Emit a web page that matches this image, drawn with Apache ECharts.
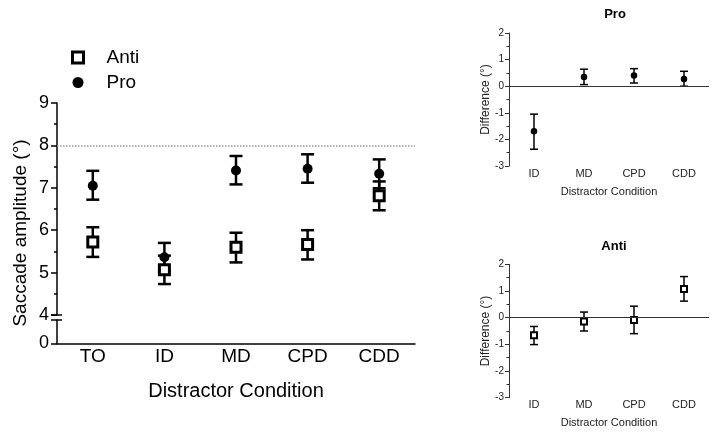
<!DOCTYPE html>
<html>
<head>
<meta charset="utf-8">
<script src="https://cdn.jsdelivr.net/npm/echarts@6/dist/echarts.min.js"></script>
<style>html,body{margin:0;padding:0;background:#fff}#c{width:717px;height:435px}</style>
</head>
<body>
<div id="c"></div>
<script>
// ---- data ----
const categories = ['TO', 'ID', 'MD', 'CPD', 'CDD'];
const proMean = [7.05, 5.36, 7.41, 7.45, 7.33];
const proLow  = [6.72, 5.03, 7.08, 7.12, 6.99];
const proHigh = [7.40, 5.70, 7.75, 7.79, 7.67];
const antiMean = [5.72, 5.07, 5.60, 5.66, 6.81];
const antiLow  = [5.37, 4.73, 5.24, 5.31, 6.47];
const antiHigh = [6.07, 5.40, 5.94, 6.00, 7.15];
const mainTicks = [4, 5, 6, 7, 8, 9];
const referenceLine = 8;

const diffCategories = ['ID', 'MD', 'CPD', 'CDD'];
const proDiff     = [-1.69, 0.35, 0.40, 0.27];
const proDiffLow  = [-2.37, 0.06, 0.12, 0.00];
const proDiffHigh = [-1.05, 0.64, 0.66, 0.56];
const antiDiff     = [-0.66, -0.14, -0.09, 1.07];
const antiDiffLow  = [-1.01, -0.50, -0.60, 0.62];
const antiDiffHigh = [-0.33, 0.21, 0.43, 1.54];

// ---- chart ----
const font = 'Liberation Sans, Arial, Helvetica, sans-serif';
const chart = echarts.init(document.getElementById('c'), null, {renderer: 'canvas'});

function errRender(capHalf, lw) {
  return function (params, api) {
    const x = api.value(0);
    const lo = api.coord([x, api.value(1)]);
    const hi = api.coord([x, api.value(2)]);
    const st = {stroke: '#000', lineWidth: lw};
    return {
      type: 'group',
      children: [
        {type: 'line', shape: {x1: lo[0], y1: lo[1], x2: hi[0], y2: hi[1]}, style: st},
        {type: 'line', shape: {x1: lo[0] - capHalf, y1: lo[1], x2: lo[0] + capHalf, y2: lo[1]}, style: st},
        {type: 'line', shape: {x1: hi[0] - capHalf, y1: hi[1], x2: hi[0] + capHalf, y2: hi[1]}, style: st}
      ]
    };
  };
}
function errData(low, high) { return low.map((v, i) => [i, v, high[i]]); }

const smallX = (gi) => ({
  gridIndex: gi, type: 'category', data: diffCategories,
  axisLine: {show: false}, axisTick: {show: false},
  axisLabel: {fontSize: 11, color: '#222', margin: 2, fontFamily: font},
  name: 'Distractor Condition', nameLocation: 'middle', nameGap: 20,
  nameTextStyle: {fontSize: 11, color: '#222', fontFamily: font}
});
const smallY = (gi) => ({
  gridIndex: gi, type: 'value', min: -3, max: 2, interval: 1,
  axisLine: {show: true, lineStyle: {color: '#333', width: 1}},
  axisTick: {show: true, length: 4, lineStyle: {color: '#333', width: 1}},
  minorTick: {show: true, splitNumber: 2, length: 2.5, lineStyle: {color: '#333', width: 1}},
  splitLine: {show: false},
  axisLabel: {fontSize: 10, color: '#222', margin: 5, fontFamily: font},
  name: 'Difference (°)', nameLocation: 'middle', nameRotate: 90, nameGap: 17,
  nameTextStyle: {fontSize: 12, color: '#222', fontFamily: font}
});

const option = {
  animation: false,
  textStyle: {fontFamily: font, color: '#000'},
  title: [
    {text: 'Pro', left: 610, top: 3, textAlign: 'center', textStyle: {fontSize: 13, fontWeight: 'bold', color: '#000', fontFamily: font}},
    {text: 'Anti', left: 609, top: 235, textAlign: 'center', textStyle: {fontSize: 13, fontWeight: 'bold', color: '#000', fontFamily: font}}
  ],
  legend: {
    orient: 'vertical', left: 71, top: 48, padding: 0, itemWidth: 11, itemHeight: 11, itemGap: 6,
    data: [
      {name: 'Anti', itemStyle: {color: '#fff', borderColor: '#000', borderWidth: 3}},
      {name: 'Pro', itemStyle: {color: '#000', borderWidth: 0}}
    ],
    textStyle: {fontSize: 19, color: '#000', fontFamily: font, padding: [0, 0, 0, 18]}
  },
  grid: [
    {left: 57, top: 103, width: 358, height: 212},
    {left: 57, top: 320, width: 358, height: 23.3},
    {left: 509, top: 33, width: 200, height: 133},
    {left: 509, top: 264.3, width: 200, height: 133.4}
  ],
  xAxis: [
    {gridIndex: 0, type: 'category', data: categories, show: false},
    {gridIndex: 1, type: 'category', data: categories,
      axisLine: {show: true, lineStyle: {color: '#000', width: 1.5}}, axisTick: {show: false},
      axisLabel: {fontSize: 19, color: '#000', margin: 4, fontFamily: font},
      name: 'Distractor Condition', nameLocation: 'middle', nameGap: 38,
      nameTextStyle: {fontSize: 20, color: '#000', fontFamily: font}},
    smallX(2), smallX(3)
  ],
  yAxis: [
    {gridIndex: 0, type: 'value', min: mainTicks[0], max: mainTicks[mainTicks.length - 1], interval: 1,
      axisLine: {show: true, lineStyle: {color: '#000', width: 1.5}},
      axisTick: {show: true, length: 6, lineStyle: {color: '#000', width: 1.5}},
      minorTick: {show: true, splitNumber: 2, length: 3, lineStyle: {color: '#000', width: 1.5}},
      splitLine: {show: false},
      axisLabel: {fontSize: 18, color: '#000', margin: 8, fontFamily: font}},
    {gridIndex: 1, type: 'value', min: 0, max: 0.55,
      axisLine: {show: true, lineStyle: {color: '#000', width: 1.5}},
      axisTick: {show: true, length: 6, customValues: [0], lineStyle: {color: '#000', width: 1.5}},
      splitLine: {show: false},
      axisLabel: {fontSize: 18, color: '#000', margin: 8, customValues: [0], fontFamily: font}},
    smallY(2), smallY(3)
  ],
  series: [
    {name: 'ProErr', type: 'custom', xAxisIndex: 0, yAxisIndex: 0, z: 2,
      renderItem: errRender(6.5, 2.5), encode: {x: 0, y: [1, 2]}, data: errData(proLow, proHigh)},
    {name: 'AntiErr', type: 'custom', xAxisIndex: 0, yAxisIndex: 0, z: 2,
      renderItem: errRender(6.5, 2.5), encode: {x: 0, y: [1, 2]}, data: errData(antiLow, antiHigh)},
    {name: 'Pro', type: 'scatter', xAxisIndex: 0, yAxisIndex: 0, z: 4,
      symbol: 'circle', symbolSize: 10, itemStyle: {color: '#000', opacity: 1},
      data: proMean},
    {name: 'Anti', type: 'scatter', xAxisIndex: 0, yAxisIndex: 0, z: 5,
      symbol: 'rect', symbolSize: 10, itemStyle: {color: '#fff', borderColor: '#000', borderWidth: 3, opacity: 1},
      data: antiMean,
      markLine: {silent: true, symbol: 'none', label: {show: false},
        lineStyle: {type: 'dotted', color: '#999', width: 1.5},
        data: [{yAxis: referenceLine}]}},
    // small Pro difference chart
    {name: 'ProDiffErr', type: 'custom', xAxisIndex: 2, yAxisIndex: 2, z: 2,
      renderItem: errRender(4, 1.5), encode: {x: 0, y: [1, 2]}, data: errData(proDiffLow, proDiffHigh)},
    {name: 'ProDiff', type: 'scatter', xAxisIndex: 2, yAxisIndex: 2, z: 4,
      symbol: 'circle', symbolSize: 6.5, itemStyle: {color: '#000', opacity: 1}, data: proDiff,
      markLine: {silent: true, symbol: 'none', label: {show: false},
        lineStyle: {type: 'solid', color: '#333', width: 1}, data: [{yAxis: 0}]}},
    // small Anti difference chart
    {name: 'AntiDiffErr', type: 'custom', xAxisIndex: 3, yAxisIndex: 3, z: 2,
      renderItem: errRender(4, 1.5), encode: {x: 0, y: [1, 2]}, data: errData(antiDiffLow, antiDiffHigh)},
    {name: 'AntiDiff', type: 'scatter', xAxisIndex: 3, yAxisIndex: 3, z: 4,
      symbol: 'rect', symbolSize: 6, itemStyle: {color: '#fff', borderColor: '#000', borderWidth: 2, opacity: 1}, data: antiDiff,
      markLine: {silent: true, symbol: 'none', label: {show: false},
        lineStyle: {type: 'solid', color: '#333', width: 1}, data: [{yAxis: 0}]}}
  ]
};
chart.setOption(option);

// axis-break marks and rotated y-axis title
const axX = chart.convertToPixel({xAxisIndex: 1}, 0) - (358 / 10);
const yBreakTop = chart.convertToPixel({yAxisIndex: 0}, mainTicks[0]);
const yBreakBot = chart.convertToPixel({yAxisIndex: 1}, 0.55);
chart.setOption({
  graphic: [
    {type: 'line', shape: {x1: axX - 6, y1: yBreakTop, x2: axX + 5, y2: yBreakTop}, style: {stroke: '#000', lineWidth: 1.5}},
    {type: 'line', shape: {x1: axX - 6, y1: yBreakBot, x2: axX + 5, y2: yBreakBot}, style: {stroke: '#000', lineWidth: 1.5}},
    {type: 'text', x: 21, y: 233, rotation: Math.PI / 2,
      style: {text: 'Saccade amplitude (°)', fontSize: 19, fontFamily: font, fill: '#000', align: 'center', verticalAlign: 'middle'}}
  ]
});
</script>
</body>
</html>
